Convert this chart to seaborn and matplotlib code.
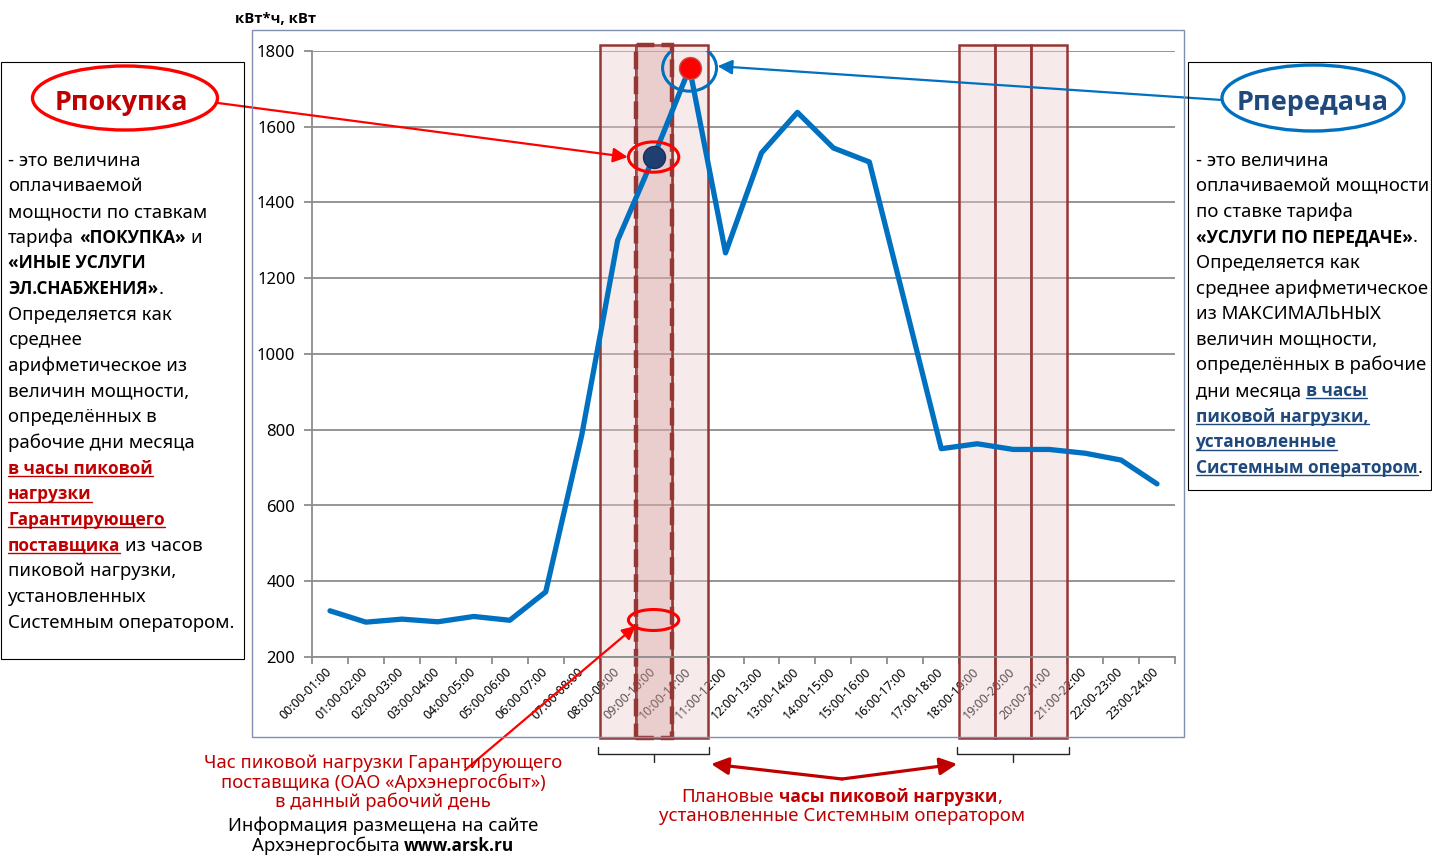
import numpy as np
import pandas as pd
import matplotlib.pyplot as plt
import matplotlib.transforms as mtransforms
import seaborn as sns
from matplotlib.patches import Rectangle, Ellipse
from matplotlib.lines import Line2D
from matplotlib.font_manager import FontProperties, findfont

# Data
hours = ["00:00-01:00", "01:00-02:00", "02:00-03:00", "03:00-04:00", "04:00-05:00",
         "05:00-06:00", "06:00-07:00", "07:00-08:00", "08:00-09:00", "09:00-10:00",
         "10:00-11:00", "11:00-12:00", "12:00-13:00", "13:00-14:00", "14:00-15:00",
         "15:00-16:00", "16:00-17:00", "17:00-18:00", "18:00-19:00", "19:00-20:00",
         "20:00-21:00", "21:00-22:00", "22:00-23:00", "23:00-24:00"]
load = [322, 292, 300, 293, 307, 297, 372, 785, 1300, 1520, 1755, 1267,
        1531, 1638, 1544, 1507, 1130, 750, 763, 748, 748, 738, 720, 657]
peak_so = [8, 9, 10, 18, 19, 20]     # planned peak hours (system operator)
peak_groups = [(8, 10), (18, 20)]
peak_gp = 9                           # peak hour of the guaranteeing supplier
peak_max = int(np.argmax(load))       # max load hour

W, H = 1432, 855
RED = '#C00000'
BLUE = '#0070C0'
NAVY = '#1F497D'
BROWN = '#953735'
BSCALE = 0.93   # bold text is set a bit smaller to keep line widths

# pick a family that really has a bold face
FAM = ['Noto Sans', 'DejaVu Sans']
BOLD_FAM = ['DejaVu Sans']
for f in ['Noto Sans', 'Open Sans', 'Roboto', 'Liberation Sans']:
    try:
        pn = findfont(FontProperties(family=f), fallback_to_default=False)
        pb = findfont(FontProperties(family=f, weight='bold'), fallback_to_default=False)
    except Exception:
        continue
    if pn != pb:
        BOLD_FAM = [f, 'DejaVu Sans']
        break

sns.set_theme(style="white")
plt.rcParams['font.family'] = FAM

fig = plt.figure(figsize=(W / 100, H / 100), dpi=100)
fig.patch.set_facecolor('white')
ax = fig.add_axes([312 / W, 1 - 657 / H, (1175 - 312) / W, (657 - 51) / H])

df = pd.DataFrame({'hour': range(len(hours)), 'load': load})
sns.lineplot(data=df, x='hour', y='load', ax=ax, color=BLUE, linewidth=3.8, zorder=4)
sns.scatterplot(x=[peak_gp], y=[load[peak_gp]], ax=ax, s=250, color='#1F3F73',
                edgecolor='#17305A', linewidth=1, zorder=5)
sns.scatterplot(x=[peak_max], y=[load[peak_max]], ax=ax, s=250, color='#FF0000',
                edgecolor='#C0504D', linewidth=1, zorder=5)

ax.set_xlim(-0.5, len(hours) - 0.5)
ax.set_ylim(200, 1800)
ax.set_yticks(range(200, 1801, 200))
ax.yaxis.grid(True, color='#8C8C8C', lw=1.3)
ax.set_axisbelow(True)
for s in ['top', 'right']:
    ax.spines[s].set_visible(False)
for s in ['left', 'bottom']:
    ax.spines[s].set_color('#8C8C8C')
    ax.spines[s].set_linewidth(1.3)
ax.set_xlabel('')
ax.set_ylabel('')

ax.set_xticks(range(len(hours)))
ax.set_xticklabels(hours, rotation=45, ha='right', va='center', rotation_mode='anchor',
                   fontsize=9, color='black')
ax.set_xticks(np.arange(-0.5, len(hours), 1), minor=True)
ax.tick_params(axis='x', which='major', length=0, pad=9)
ax.tick_params(axis='x', which='minor', bottom=True, length=5, width=1.3, color='#8C8C8C')
ax.tick_params(axis='y', left=True, length=6, width=1.3, color='#8C8C8C',
               labelsize=12, labelcolor='black', pad=6)

# peak hour rectangles (x in data, y in figure fraction)
blend = mtransforms.blended_transform_factory(ax.transData, fig.transFigure)
for i in peak_so:
    ax.add_patch(Rectangle((i - 0.5, 1 - 738 / H), 1, (738 - 45) / H, transform=blend,
                           facecolor=(0.93, 0.80, 0.80, 0.4), edgecolor=BROWN,
                           lw=1.8, clip_on=False, zorder=2))
ax.add_patch(Rectangle((peak_gp - 0.5, 1 - 738 / H), 1, (738 - 45) / H, transform=blend,
                       facecolor=(0.80, 0.55, 0.55, 0.3), edgecolor=BROWN,
                       lw=3.2, ls=(0, (4, 1.6)), clip_on=False, zorder=2.5))

# brackets under groups
for a, b in peak_groups:
    x0, x1, xm = a - 0.55, b + 0.55, (a + b) / 2
    yt, yb, yc = 1 - 747 / H, 1 - 754 / H, 1 - 762 / H
    ax.plot([x0, x0, x1, x1], [yt, yb, yb, yt], transform=blend, color='#262626',
            lw=1, clip_on=False)
    ax.plot([xm, xm], [yb, yc], transform=blend, color='#262626', lw=1, clip_on=False)

# ellipses on the chart
ax.add_patch(Ellipse((peak_gp, load[peak_gp]), 1.4, 80, fill=False, ec='#FF0000', lw=2.2, zorder=6))
ax.add_patch(Ellipse((peak_max, load[peak_max]), 1.5, 122, fill=False, ec=BLUE, lw=2.2, zorder=6))
ax.add_patch(Ellipse((peak_gp, 1 - 620 / H), 1.4, 21 / H, transform=blend, fill=False,
                     ec='#FF0000', lw=2.2, zorder=6, clip_on=False))

# arrows
ax.annotate('', xy=(peak_gp - 0.72, load[peak_gp]), xycoords='data',
            xytext=(218, H - 103), textcoords='figure pixels', annotation_clip=False,
            arrowprops=dict(arrowstyle='-|>', color='#FF0000', lw=1.6, mutation_scale=22,
                            shrinkA=0, shrinkB=0), zorder=6)
ax.annotate('', xy=(peak_max + 0.78, load[peak_max] + 5), xycoords='data',
            xytext=(1222, H - 100), textcoords='figure pixels', annotation_clip=False,
            arrowprops=dict(arrowstyle='-|>', color=BLUE, lw=1.6, mutation_scale=22,
                            shrinkA=0, shrinkB=0), zorder=6)
ax.annotate('', xy=(peak_gp - 0.5, 1 - 626 / H), xycoords=('data', 'figure fraction'),
            xytext=(465, H - 770), textcoords='figure pixels', annotation_clip=False,
            arrowprops=dict(arrowstyle='-|>', color='#FF0000', lw=1.6, mutation_scale=20,
                            shrinkA=0, shrinkB=0), zorder=6)
for xe in [peak_groups[0][1] + 0.6, peak_groups[1][0] - 0.56]:
    ax.annotate('', xy=(xe, H - 764), xycoords=('data', 'figure pixels'),
                xytext=(842, H - 779), textcoords='figure pixels', annotation_clip=False,
                arrowprops=dict(arrowstyle='-|>', color=RED, lw=2.3, mutation_scale=26,
                                shrinkA=0, shrinkB=0), zorder=6)

# frames
def frame(x0, y0, x1, y1, color, lw):
    fig.add_artist(Rectangle((x0 / W, 1 - y1 / H), (x1 - x0) / W, (y1 - y0) / H,
                             transform=fig.transFigure, fill=False, ec=color, lw=lw))

frame(252, 30, 1184, 737, '#7F8FAF', 1)
frame(1, 62, 244, 659, 'black', 0.8)
frame(1188, 62, 1431, 490, 'black', 0.8)

for cx, cy, w, h, c in [(125, 98, 185, 64, '#FF0000'), (1313, 98, 182, 66, BLUE)]:
    fig.add_artist(Ellipse((cx / W, 1 - cy / H), w / W, h / H, transform=fig.transFigure,
                           facecolor='white', ec=c, lw=2.4))

# rich text helpers
renderer = fig.canvas.get_renderer()
STY = {'n': ('normal', 'black', False), 'b': ('bold', 'black', False),
       'r': ('normal', RED, False), 'rb': ('bold', RED, False),
       'ru': ('bold', RED, True), 'bu': ('bold', NAVY, True),
       'tr': ('bold', '#C00000', False), 'tb': ('bold', NAVY, False)}


def fam(weight):
    return BOLD_FAM if weight == 'bold' else FAM


def psize(size, weight):
    return size * BSCALE if weight == 'bold' else size


def tw(s, size, weight):
    fp = FontProperties(family=fam(weight), size=psize(size, weight), weight=weight)
    w1 = renderer.get_text_width_height_descent('|' + s + '|', fp, ismath=False)[0]
    w0 = renderer.get_text_width_height_descent('||', fp, ismath=False)[0]
    return w1 - w0


def line_width(parts, size):
    return sum(tw(t, size, STY[k][0]) for t, k in parts)


def fit(parts, target):
    return 10 * target / line_width(parts, 10)


def rich(x, y, parts, size, ha='left'):
    if ha == 'center':
        x -= line_width(parts, size) / 2
    base = y + 0.3 * size * 100 / 72
    for t, k in parts:
        wt, col, ul = STY[k]
        lead = len(t) - len(t.lstrip())
        xs = x + tw(t[:lead], size, wt)
        body = t.strip()
        if body:
            fig.text(xs / W, 1 - base / H, body, fontsize=psize(size, wt), fontweight=wt,
                     color=col, family=fam(wt), va='baseline', ha='left')
        if ul and body:
            uy = base + 0.13 * size * 100 / 72
            fig.add_artist(Line2D([xs / W, (xs + tw(body, size, wt)) / W], [1 - uy / H] * 2,
                                  color=col, lw=size * 0.075, transform=fig.transFigure))
        x += tw(t, size, wt)


left_lines = [
    [("- это величина", 'n')],
    [("оплачиваемой", 'n')],
    [("мощности по ставкам", 'n')],
    [("тарифа ", 'n'), ("«ПОКУПКА»", 'b'), (" и", 'n')],
    [("«ИНЫЕ УСЛУГИ", 'b')],
    [("ЭЛ.СНАБЖЕНИЯ»", 'b'), (".", 'n')],
    [("Определяется как", 'n')],
    [("среднее", 'n')],
    [("арифметическое из", 'n')],
    [("величин мощности,", 'n')],
    [("определённых в", 'n')],
    [("рабочие дни месяца", 'n')],
    [("в часы пиковой", 'ru')],
    [("нагрузки", 'ru')],
    [("Гарантирующего", 'ru')],
    [("поставщика", 'ru'), (" из часов", 'n')],
    [("пиковой нагрузки,", 'n')],
    [("установленных", 'n')],
    [("Системным оператором.", 'n')],
]
right_lines = [
    [("- это величина", 'n')],
    [("оплачиваемой мощности", 'n')],
    [("по ставке тарифа", 'n')],
    [("«УСЛУГИ ПО ПЕРЕДАЧЕ»", 'b'), (".", 'n')],
    [("Определяется как", 'n')],
    [("среднее арифметическое", 'n')],
    [("из МАКСИМАЛЬНЫХ", 'n')],
    [("величин мощности,", 'n')],
    [("определённых в рабочие", 'n')],
    [("дни месяца ", 'n'), ("в часы", 'bu')],
    [("пиковой нагрузки,", 'bu')],
    [("установленные", 'bu')],
    [("Системным оператором", 'bu'), (".", 'n')],
]

fs_l = fit(left_lines[-1], 225)
fs_r = fit(right_lines[1], 231)
fs_body = (fs_l + fs_r) / 2
for i, parts in enumerate(left_lines):
    rich(8, 160 + i * 25.67, parts, fs_body)
for i, parts in enumerate(right_lines):
    rich(1196, 160 + i * 25.6, parts, fs_body)

t1 = [("Рпокупка", 'tr')]
t2 = [("Рпередача", 'tb')]
rich(121, 101, t1, fit(t1, 133), ha='center')
rich(1313, 101, t2, fit(t2, 151), ha='center')

ylab = [("кВт*ч, кВт", 'b')]
rich(276, 18, ylab, fit(ylab, 80), ha='center')

# bottom notes
b1 = [
    [("Час пиковой нагрузки Гарантирующего", 'r')],
    [("поставщика (ОАО «Архэнергосбыт»)", 'r')],
    [("в данный рабочий день", 'r')],
]
b2 = [
    [("Информация размещена на сайте", 'n')],
    [("Архэнергосбыта ", 'n'), ("www.arsk.ru", 'b')],
]
b3 = [
    [("Плановые ", 'r'), ("часы пиковой нагрузки", 'rb'), (",", 'r')],
    [("установленные Системным оператором", 'r')],
]
fs_b1 = fit(b1[0], 355)
for parts, y in zip(b1, [762, 782, 801]):
    rich(383, y, parts, fs_b1, ha='center')
fs_b2 = fit(b2[0], 308)
for parts, y in zip(b2, [825, 845]):
    rich(383, y, parts, fs_b2, ha='center')
fs_b3 = fit(b3[1], 364)
for parts, y in zip(b3, [796, 815]):
    rich(842, y, parts, fs_b3, ha='center')

fig.savefig("out.png", dpi=100)
